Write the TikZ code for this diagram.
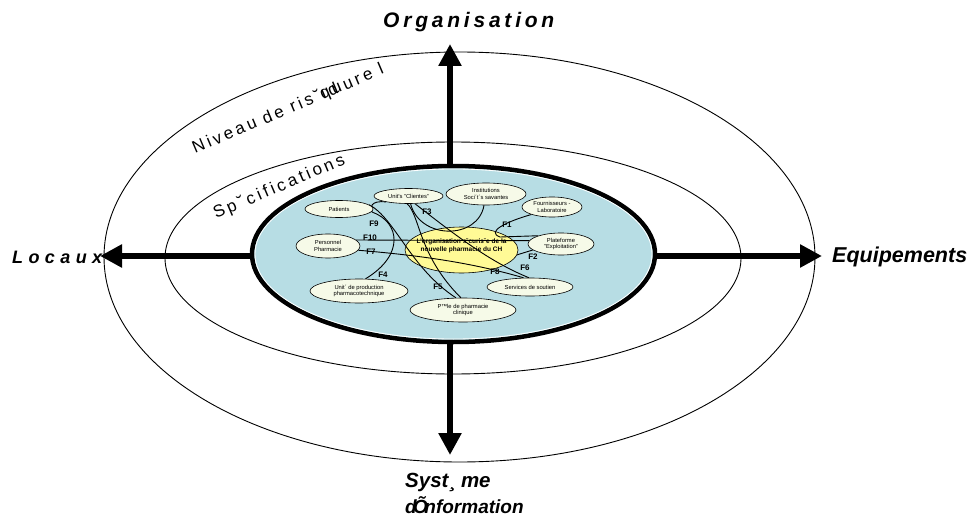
\documentclass[tikz,border=0pt]{standalone}
\usepackage{fontspec}
\setmainfont{Liberation Sans}
\newfontfamily\spacedA[LetterSpace=18]{Liberation Sans}
\newfontfamily\spacedB[LetterSpace=18]{Liberation Sans}
\newfontfamily\spacedC[LetterSpace=30]{Liberation Sans}
\usetikzlibrary{arrows.meta,shapes.geometric}
\pgfdeclarelayer{bg}
\pgfsetlayers{bg,main}
\definecolor{innerblue}{RGB}{183,221,228}
\definecolor{yelfill}{RGB}{255,250,150}
\definecolor{creamfill}{RGB}{246,250,232}
\tikzset{
  thinell/.style={draw=black, line width=0.9pt},
  bigarrow/.style={line width=5.5pt, -{Triangle[length=22pt,width=22pt]}},
  smallell/.style={ellipse, draw=black, line width=0.6pt, fill=creamfill, inner sep=0pt, align=center, font=\fontsize{5.8}{6.6}\selectfont},
  flab/.style={font=\bfseries\fontsize{8}{8}\selectfont, inner sep=0pt},
  link/.style={draw=black, line width=0.9pt},
  axislab/.style={font=\bfseries\itshape, inner sep=0pt, anchor=base west},
  ringlab/.style={font=\spacedA\fontsize{17}{17}\selectfont, inner sep=0pt, anchor=base west, rotate=23},
}
\begin{document}
\begin{tikzpicture}[x=1pt,y=-1pt]
\useasboundingbox (0,0) rectangle (969,516);

% small ellipses (top layer)
\node[smallell, minimum width=68pt, minimum height=17pt] (pat) at (339,209) {Patients};
\node[smallell, minimum width=69pt, minimum height=15pt] (cli) at (408.5,196) {Unit's "Clientes"};
\node[smallell, minimum width=80pt, minimum height=22pt] (ins) at (486,194) {Institutions\\Soci´t´s savantes};
\node[smallell, minimum width=60pt, minimum height=20pt] (fou) at (552,207) {Fournisseurs -\\Laboratoire};
\node[smallell, minimum width=66pt, minimum height=22pt] (pla) at (561,244) {Plateforme\\"Exploitation"};
\node[smallell, minimum width=86pt, minimum height=18pt] (ser) at (530,287) {Services de soutien};
\node[smallell, minimum width=106pt, minimum height=24pt] (pole) at (463,310) {P™le de pharmacie\\clinique};
\node[smallell, minimum width=98pt, minimum height=24pt] (upr) at (359,291) {Unit´ de production\\pharmacotechnique};
\node[smallell, minimum width=64pt, minimum height=24pt] (per) at (328,246) {Personnel\\Pharmacie};

% F labels
\node[flab] (f1) at (507,225) {F1};
\node[flab] (f2) at (533,257) {F2};
\node[flab] (f3) at (427,212) {F3};
\node[flab] (f4) at (383,275) {F4};
\node[flab] (f5) at (438,287) {F5};
\node[flab] (f6) at (525,268) {F6};
\node[flab] (f7) at (371,252) {F7};
\node[flab] (f8) at (495,272) {F8};
\node[flab] (f9) at (374,224) {F9};
\node[flab] (f10) at (370,238) {F10};

% axis labels
\node[axislab, font=\bfseries\itshape\fontsize{21}{21}\selectfont] (org) at (383,28) {\spacedB Organisation};
\node[axislab, font=\bfseries\itshape\fontsize{18}{18}\selectfont] (loc) at (12,263) {\spacedC Locaux};
\node[axislab, font=\bfseries\itshape\fontsize{21.5}{21.5}\selectfont] (equ) at (832,262) {Equipements};
\node[axislab, font=\bfseries\itshape\fontsize{20.5}{20.5}\selectfont] (sys1) at (405,487) {Syst¸ me};
\node[axislab, font=\bfseries\itshape\fontsize{19}{19}\selectfont] (sys2) at (405,513) {d\makebox[0.4em][c]{Õ}nformation};

% ring labels
\node[ringlab] (niv) at (195,154) {Niveau de ris˘\rlap{\kern0.05em ıd}quure l};
\node[ringlab] (spe) at (216,219) {Sp˘cifications};

\begin{pgfonlayer}{bg}
  % outer ellipses
  \draw[thinell] (459.5,257) ellipse [x radius=355.5pt, y radius=205pt];
  \draw[thinell] (453,258) ellipse [x radius=288pt, y radius=116pt];
  % arrows
  \coordinate (ctr) at (450,256);
  \coordinate (tipN) at (450,44);
  \coordinate (tipS) at (450,455);
  \coordinate (tipW) at (100,256);
  \coordinate (tipE) at (822,256);
  \draw[bigarrow] (ctr) -- (tipN);
  \draw[bigarrow] (ctr) -- (tipS);
  \draw[bigarrow] (ctr) -- (tipW);
  \draw[bigarrow] (ctr) -- (tipE);
  % inner blue ellipse
  \draw[line width=4.5pt, fill=innerblue] (453.5,254) ellipse [x radius=201.5pt, y radius=88pt];
  \draw[white, line width=0.8pt] (453.5,254) ellipse [x radius=198.5pt, y radius=85pt];
  % central ellipse
  \node[ellipse, draw=black, line width=0.6pt, fill=yelfill, minimum width=113pt, minimum height=46pt, inner sep=0pt] (yel) at (461.5,250) {};
  \node[align=center, font=\bfseries\fontsize{6.5}{7.6}\selectfont, inner sep=0pt] (yeltext) at (461.5,246) {L'organisation s˘curis˘e de la\\nouvelle pharmacie du CH};
  % links
  \draw[link] (fou.200) .. controls (505,222) and (486,232) .. (500,237) -- (pla.160);
  \draw[link] (per.12) -- (pla.174);
  \draw[link] (yel.-5) -- (pla.192);
  \draw[link] (cli.-75) .. controls (420,240) and (478,240) .. (ins.-100);
  \draw[link] (cli.195) .. controls (370,200) and (370,208) .. (372,212) .. controls (400,222) and (405,255) .. (upr.62);
  \draw[link] (cli.-100) .. controls (420,215) and (418,255) .. (pole.100);
  \draw[link] (cli.-50) .. controls (455,235) and (490,262) .. (ser.97);
  \draw[link] (per.-8) .. controls (415,255) and (470,262) .. (ser.125);
  \draw[link] (pat.8) .. controls (395,218) and (410,268) .. (pole.120);
\end{pgfonlayer}
\end{tikzpicture}
\end{document}
